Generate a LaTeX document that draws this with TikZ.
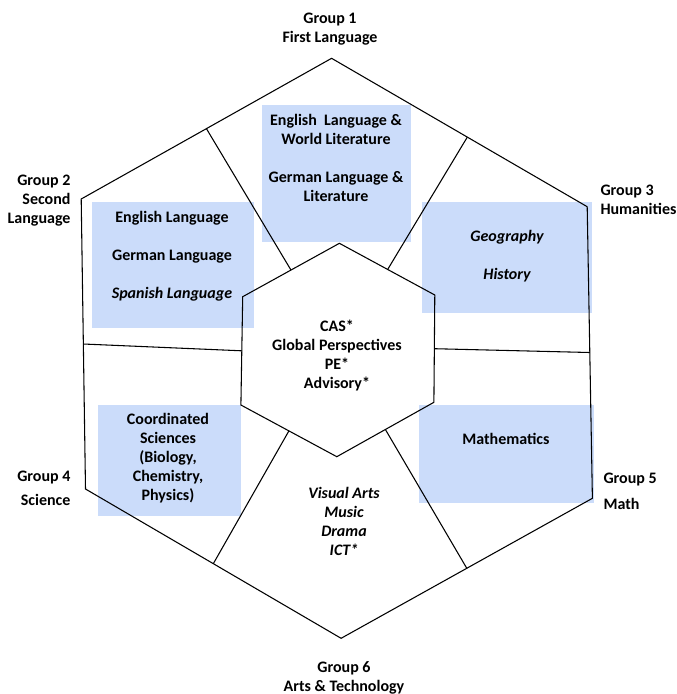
\documentclass[tikz,border=0pt]{standalone}
\usepackage{fontspec}
\setmainfont{Carlito}
\definecolor{boxblue}{RGB}{203,220,250}

\begin{document}
\begin{tikzpicture}[x=0.75pt, y=-0.75pt, line width=0.8pt,
  every node/.style={inner sep=0pt, align=center,
    font=\bfseries\fontsize{12}{14.25}\selectfont}]

\useasboundingbox (0,0) rectangle (677,694);

% shaded boxes
\fill[boxblue] (262,105) rectangle (411,242);
\fill[boxblue] (91.5,202) rectangle (253.5,328);
\fill[boxblue] (422,202) rectangle (592,313);
\fill[boxblue] (98,405) rectangle (240.5,516);
\fill[boxblue] (419,405) rectangle (594,503);

% outer hexagon
\draw (331.6,58.3)--(587.2,206.7)--(592.4,498.3)--(341.1,638.3)--(85.5,489)--(81.2,199)--cycle;

% inner hexagon
\draw (339.4,243.3)--(434.8,295)--(433.9,402.3)--(336.8,456.7)--(240.9,405)--(242.7,296.7)--cycle;

% dividers
\draw (206.4,128.6)--(291,270.1);
\draw (467.2,137.3)--(387.8,269.2);
\draw (83.3,344)--(241.8,350.8);
\draw (434.4,348.7)--(589.8,352.5);
\draw (288.9,430.9)--(213.3,563.7);
\draw (385.4,429.5)--(466.8,568.3);

% group labels
\node (g1) at (330,29.5) {Group 1\\First Language};
\node (g2) at (71,201) [anchor=east, align=right] {Group 2\\Second\\Language};
\node (g3) at (600,200) [anchor=west, align=left] {Group 3\\Humanities};
\node (g4) at (71,488) [anchor=east, align=right] {Group 4\\[4pt]Science};
\node (g5) at (603,491.5) [anchor=west, align=left] {Group 5\\[5pt]Math};
\node (g6) at (344,678) {Group 6\\Arts \& Technology};

% subjects
\node (lang1) at (336,158) {English\ \ Language \&\\World Literature\\[14.25pt]German Language \&\\Literature};
\node (lang2) at (172,256.5) {English Language\\[14.25pt]German Language\\[14.25pt]\itshape Spanish Language};
\node (hum) at (507,256) {\itshape Geography\\[14.25pt]\itshape History};
\node (core) at (337,355.5) {CAS*\\Global Perspectives\\PE*\\Advisory*};
\node (sci) at (168,458) {Coordinated\\Sciences\\(Biology,\\Chemistry,\\Physics)};
\node (math) at (506,439) {Mathematics};
\node (arts) at (344,521) {\itshape Visual Arts\\\itshape Music\\\itshape Drama\\\itshape ICT*};

\end{tikzpicture}
\end{document}
